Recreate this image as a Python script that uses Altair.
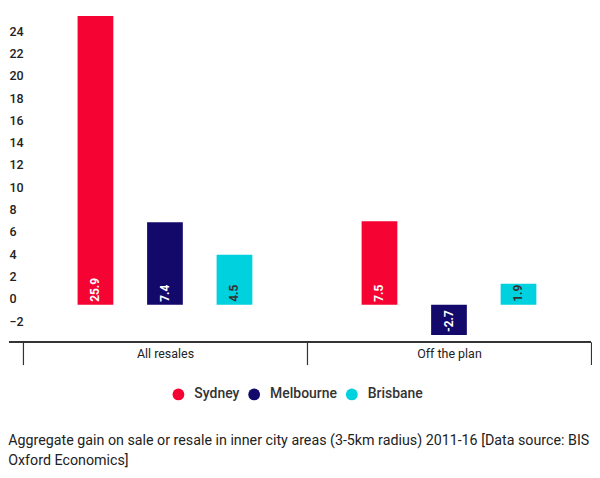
import altair as alt
import pandas as pd

categories = ["All resales", "All resales", "All resales", "Off the plan", "Off the plan", "Off the plan"]
cities = ["Sydney", "Melbourne", "Brisbane", "Sydney", "Melbourne", "Brisbane"]
values = [25.9, 7.4, 4.5, 7.5, -2.7, 1.9]
city_order = ["Sydney", "Melbourne", "Brisbane"]
city_colors = ["#F40333", "#13096B", "#00D1DE"]
y_ticks = [-2, 0, 2, 4, 6, 8, 10, 12, 14, 16, 18, 20, 22, 24]

df = pd.DataFrame({"category": categories, "city": cities, "value": values})
df["base"] = df["value"].clip(upper=0)
df["label"] = df["value"].map(lambda v: f"{v:.1f}")

FONT = "Roboto"
W = 570

x_axis = alt.Axis(tickBand="extent", tickSize=23, tickColor="#333", tickWidth=1.2,
                  domain=False, labelAngle=0, labelPadding=-17,
                  labelFont=FONT, labelFontSize=12.5, labelColor="#222")
y_axis = alt.Axis(values=y_ticks, domain=False, ticks=False, grid=False,
                  labelOverlap=False,
                  labelAlign="left", labelPadding=14, labelBaseline="alphabetic",
                  labelOffset=-2, labelFont=FONT, labelFontSize=12.5,
                  labelFontWeight=500, labelColor="#222")
x_scale = alt.Scale(paddingInner=0, paddingOuter=0)
y_scale = alt.Scale(domain=[-3.3, 26], nice=False, zero=False)
xo_scale = alt.Scale(domain=city_order, paddingInner=0.486, paddingOuter=0.786)

bars = alt.Chart(df).mark_bar().encode(
    x=alt.X("category:N", title=None, scale=x_scale, axis=x_axis),
    xOffset=alt.XOffset("city:N", sort=city_order, scale=xo_scale),
    y=alt.Y("value:Q", title=None, scale=y_scale, axis=y_axis),
    color=alt.Color("city:N", sort=city_order,
                    scale=alt.Scale(domain=city_order, range=city_colors),
                    legend=alt.Legend(title=None, orient="none", legendX=149, legendY=374,
                                      direction="horizontal",
                                      symbolType="circle", symbolSize=140,
                                      symbolStrokeWidth=0, labelFont=FONT,
                                      labelFontSize=14, labelFontWeight=500,
                                      labelColor="#333", columnPadding=7,
                                      labelOffset=9)),
)

texts = alt.Chart(df).mark_text(angle=270, align="left", baseline="middle", dx=3,
                                font=FONT, fontSize=12, fontWeight="bold").encode(
    x=alt.X("category:N", title=None, scale=x_scale, axis=x_axis),
    xOffset=alt.XOffset("city:N", sort=city_order, scale=xo_scale),
    y=alt.Y("base:Q", title=None, scale=y_scale, axis=y_axis),
    text="label:N",
    color=alt.condition(alt.datum.city == "Brisbane", alt.value("#333"), alt.value("white")),
)

baseline = alt.Chart(df).mark_rule(color="#333", strokeWidth=1.5).encode(
    x=alt.value(-14), x2=alt.value(W), y=alt.value(328)
)

chart = alt.layer(bars, texts, baseline).properties(
    width=W, height=328,
    padding={"left": 0, "top": 6, "right": 0, "bottom": 5},
    title=alt.TitleParams(
        text=["Aggregate gain on sale or resale in inner city areas (3-5km radius) 2011-16 [Data source: BIS",
              "Oxford Economics]"],
        orient="bottom", anchor="start", frame="bounds", font=FONT, fontSize=14.3,
        fontWeight="normal", color="#222", lineHeight=20, offset=33),
).configure_view(stroke=None).configure_axis(labelOverlap=False)

chart.save("out.html", embed_options={"renderer": "svg", "actions": False})
